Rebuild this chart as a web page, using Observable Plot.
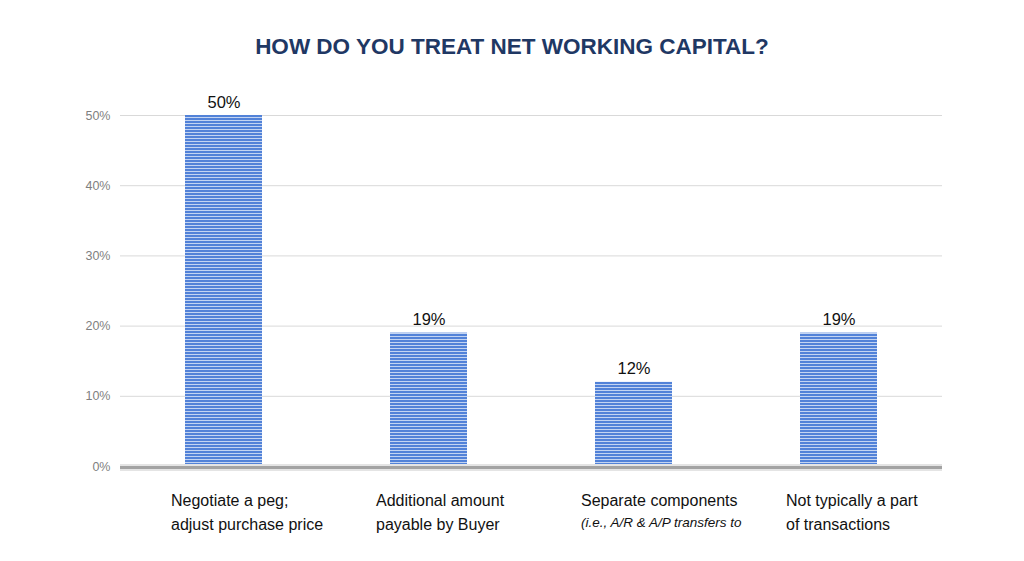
<!DOCTYPE html>
<html>
<head>
<meta charset="utf-8">
<script src="https://cdn.jsdelivr.net/npm/d3@7"></script>
<script src="https://cdn.jsdelivr.net/npm/@observablehq/plot@0.6"></script>
<style>
  body { margin: 0; background: #fff; font-family: "Liberation Sans", Arial, sans-serif; }
  #title { height: 70px; box-sizing: border-box; padding-top: 35px; text-align: center;
    font-size: 22.5px; line-height: 24px; font-weight: bold; color: #1F3864; }
</style>
</head>
<body>
<div id="title">HOW DO YOU TREAT NET WORKING CAPITAL?</div>
<div id="chart"></div>
<script>
const categories = ["Negotiate a peg", "Additional amount", "Separate components", "Not typically"];
const values = [0.50, 0.19, 0.12, 0.19];
const labelLine1 = ["Negotiate a peg;", "Additional amount", "Separate components", "Not typically a part"];
const labelLine2 = ["adjust purchase price", "payable by Buyer", "(i.e., A/R & A/P transfers to", "of transactions"];
const labelLine2Italic = [false, false, true, false];
const yTicks = [0, 0.1, 0.2, 0.3, 0.4, 0.5];

const data = categories.map((c, i) => ({cat: c, value: values[i], l1: labelLine1[i], l2: labelLine2[i], it: labelLine2Italic[i]}));

const chart = Plot.plot({
  width: 1024,
  height: 491,
  marginTop: 45,
  marginBottom: 95,
  marginLeft: 120,
  marginRight: 82,
  style: {fontFamily: "'Liberation Sans', Arial, sans-serif", background: "#fff"},
  x: {domain: categories, paddingInner: 0.625, paddingOuter: 0.3125, axis: null},
  y: {domain: [0, 0.5], axis: null},
  marks: [
    Plot.ruleY(yTicks.filter(d => d > 0), {stroke: "#d9d9d9", strokeWidth: 1}),
    Plot.text(yTicks, {x: null, y: d => d, text: d => Math.round(d * 100) + "%", frameAnchor: "left", textAnchor: "end", dx: -10, fontSize: 12.5, fill: "#7f7f7f"}),
    Plot.barY(data, {x: "cat", y: "value", fill: "url(#stripes)"}),
    Plot.ruleY([0], {stroke: "#e4e4e4", strokeWidth: 7, dy: 1}),
    Plot.ruleY([0], {stroke: "#a3a3a3", strokeWidth: 3, dy: 1}),
    Plot.text(data, {x: "cat", y: "value", text: d => Math.round(d.value * 100) + "%", lineAnchor: "bottom", dy: -8, fontSize: 16.5, fill: "#111"}),
    Plot.text(data, {x: "cat", y: 0, text: "l1", textAnchor: "start", lineAnchor: "bottom", dx: -53, dy: 39, fontSize: 16, fill: "#111"}),
    Plot.text(data.filter(d => !d.it), {x: "cat", y: 0, text: "l2", textAnchor: "start", lineAnchor: "bottom", dx: -53, dy: 63, fontSize: 16, fill: "#111"}),
    Plot.text(data.filter(d => d.it), {x: "cat", y: 0, text: "l2", textAnchor: "start", lineAnchor: "bottom", dx: -53, dy: 60, fontSize: 13.5, fontStyle: "italic", fill: "#111"})
  ]
});

const ns = "http://www.w3.org/2000/svg";
const defs = document.createElementNS(ns, "defs");
const pat = document.createElementNS(ns, "pattern");
pat.setAttribute("id", "stripes");
pat.setAttribute("patternUnits", "userSpaceOnUse");
pat.setAttribute("width", "8");
pat.setAttribute("height", "3");
const r1 = document.createElementNS(ns, "rect");
r1.setAttribute("width", "8"); r1.setAttribute("height", "3"); r1.setAttribute("fill", "#5282d8");
const r2 = document.createElementNS(ns, "rect");
r2.setAttribute("y", "2"); r2.setAttribute("width", "8"); r2.setAttribute("height", "1"); r2.setAttribute("fill", "#c3d4f2");
pat.appendChild(r1); pat.appendChild(r2);
defs.appendChild(pat);
chart.insertBefore(defs, chart.firstChild);

document.getElementById("chart").appendChild(chart);
</script>
</body>
</html>
